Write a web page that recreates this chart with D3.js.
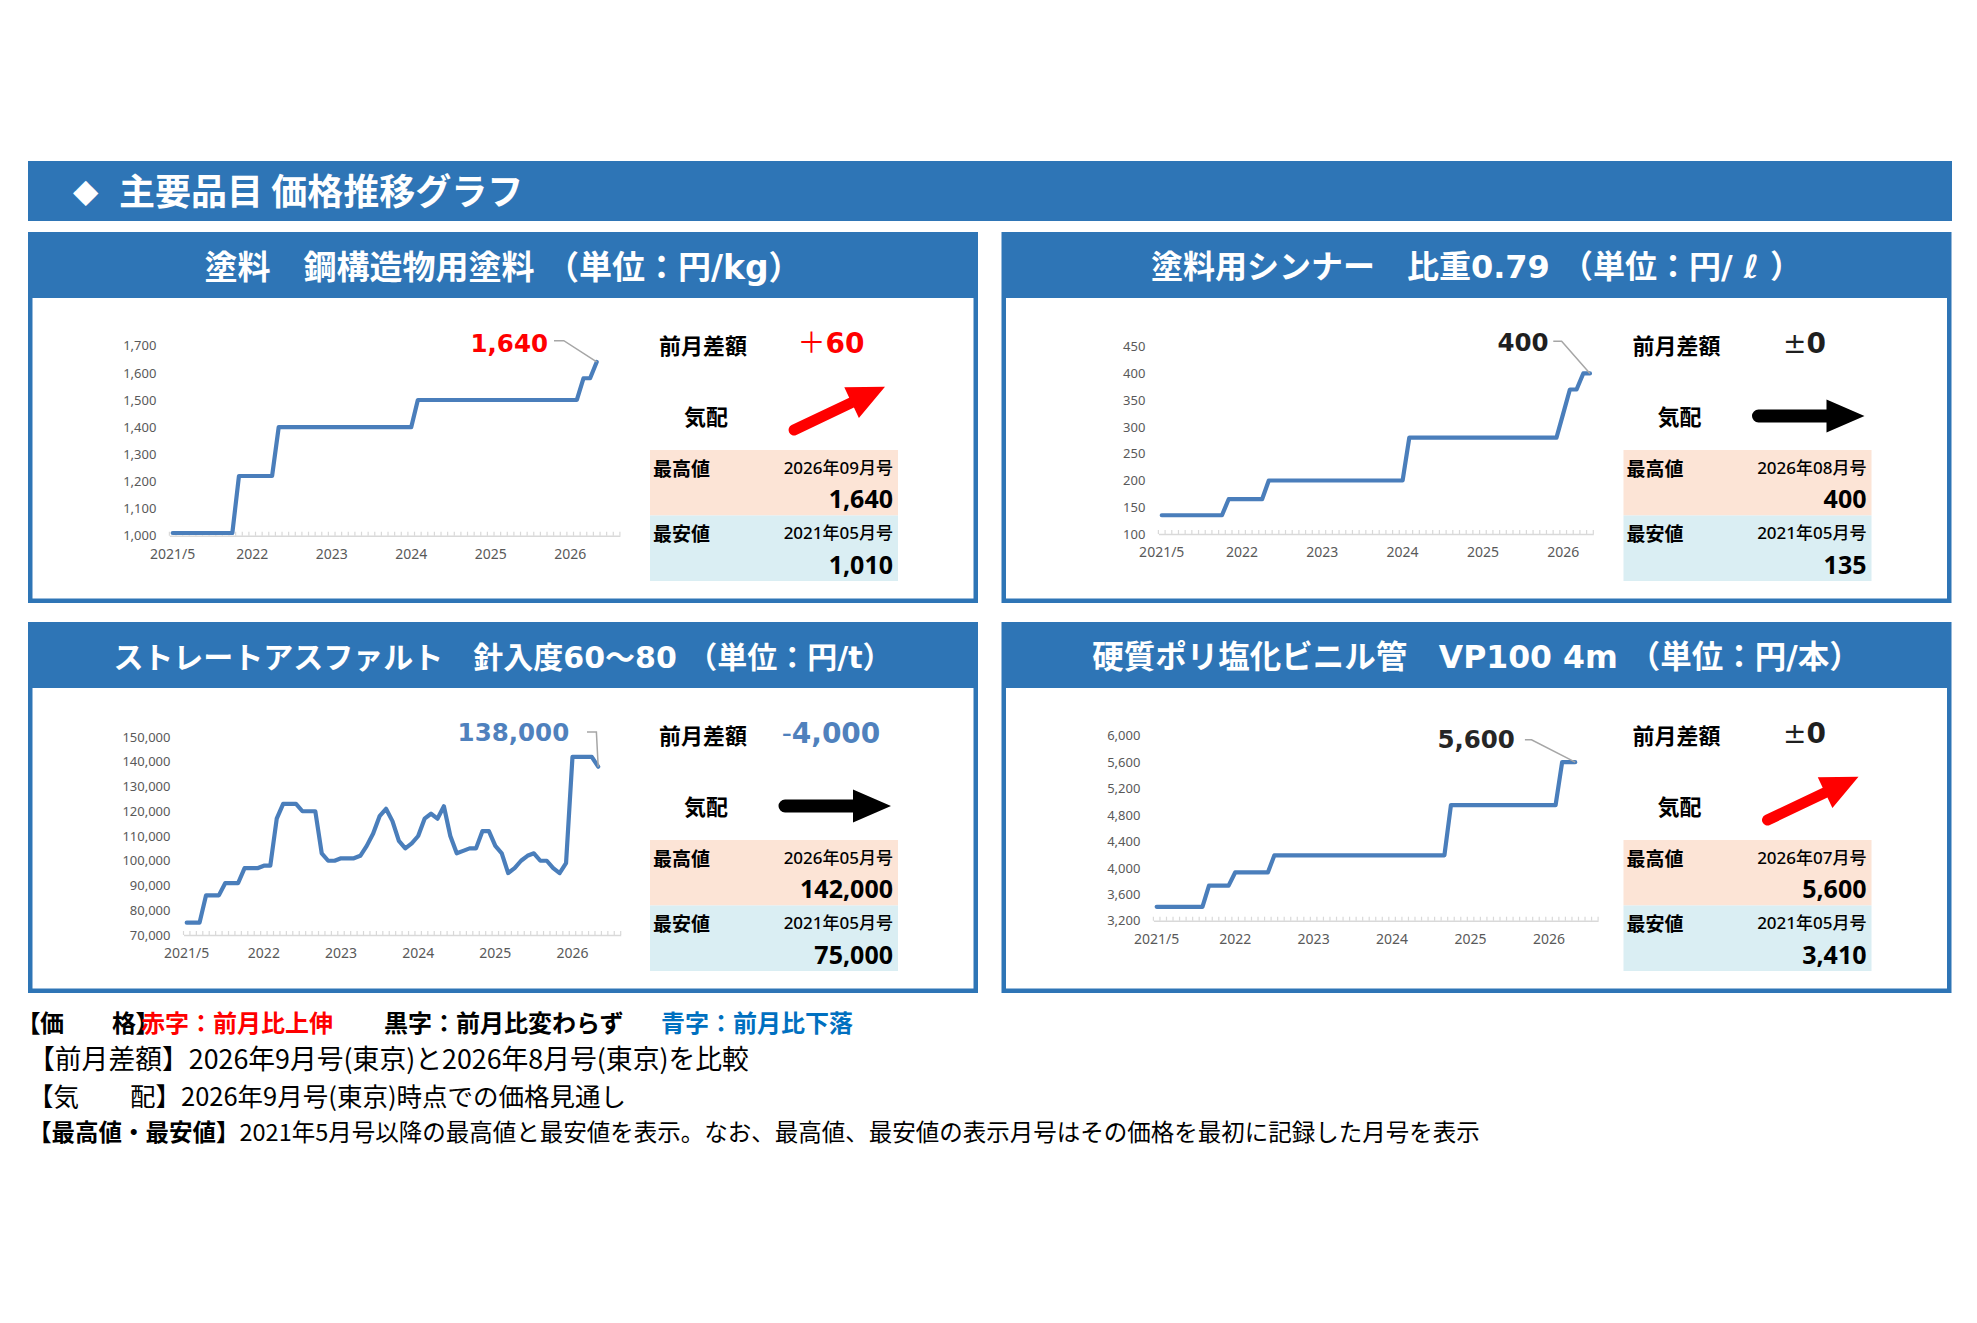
<!DOCTYPE html>
<html>
<head>
<meta charset="utf-8">
<script src="https://cdn.jsdelivr.net/npm/d3@7/dist/d3.min.js"></script>
<style>
body { margin: 0; background: #fff; }
svg { display: block; }
</style>
</head>
<body>
<svg id="chart" width="1977" height="1323"></svg>
<script>
// ---- data ----
const xTickLabels = ['2021/5', '2022', '2023', '2024', '2025', '2026']

const titles = [
  '塗料　鋼構造物用塗料 （単位：円/kg）',
  '塗料用シンナー　比重0.79 （単位：円/ ℓ ）',
  'ストレートアスファルト　針入度60～80 （単位：円/t）',
  '硬質ポリ塩化ビニル管　VP100 4m （単位：円/本）'
]

// 2021/5 .. 2026/9, monthly
const paintValues = [
  1010, 1010, 1010, 1010, 1010, 1010, 1010, 1010, 1010, 1010,
  1220, 1220, 1220, 1220, 1220, 1220,
  1400, 1400, 1400, 1400, 1400, 1400, 1400, 1400, 1400, 1400, 1400,
  1400, 1400, 1400, 1400, 1400, 1400, 1400, 1400, 1400, 1400,
  1500, 1500, 1500, 1500, 1500, 1500, 1500, 1500, 1500, 1500, 1500, 1500,
  1500, 1500, 1500, 1500, 1500, 1500, 1500, 1500, 1500, 1500, 1500, 1500, 1500,
  1580, 1580, 1640
]
const thinnerValues = [
  135, 135, 135, 135, 135, 135, 135, 135, 135, 135,
  165, 165, 165, 165, 165, 165,
  200, 200, 200, 200, 200, 200, 200, 200, 200, 200, 200,
  200, 200, 200, 200, 200, 200, 200, 200, 200, 200,
  280, 280, 280, 280, 280, 280, 280, 280, 280, 280, 280, 280,
  280, 280, 280, 280, 280, 280, 280, 280, 280, 280, 280,
  325, 370, 370, 400, 400
]
const asphaltValues = [
  75000, 75000, 75000, 86000, 86000, 86000, 91000, 91000, 91000,
  97000, 97000, 97000, 98000, 98000, 117000, 123000, 123000, 123000,
  120000, 120000, 120000, 103000, 100000, 100000, 101000, 101000, 101000,
  102000, 106000, 111000, 118000, 121000, 116000, 108000, 105000, 107000,
  110000, 117000, 119000, 117000, 122000, 110000, 103000, 104000, 105000,
  105000, 112000, 112000, 106000, 103000, 95000, 97000, 100000, 102000,
  103000, 100000, 100000, 97000, 95000, 99000,
  142000, 142000, 142000, 142000, 138000
]
const pvcValues = [
  3410, 3410, 3410, 3410, 3410, 3410, 3410, 3410,
  3730, 3730, 3730, 3730,
  3930, 3930, 3930, 3930, 3930, 3930,
  4190, 4190, 4190, 4190, 4190, 4190, 4190, 4190, 4190, 4190, 4190, 4190, 4190, 4190,
  4190, 4190, 4190, 4190, 4190, 4190, 4190, 4190, 4190, 4190, 4190, 4190, 4190,
  4950, 4950, 4950, 4950, 4950, 4950, 4950, 4950, 4950, 4950, 4950, 4950,
  4950, 4950, 4950, 4950, 4950,
  5600, 5600, 5600
]

const paintTicks = [1000, 1100, 1200, 1300, 1400, 1500, 1600, 1700]
const thinnerTicks = [100, 150, 200, 250, 300, 350, 400, 450]
const asphaltTicks = [70000, 80000, 90000, 100000, 110000, 120000, 130000, 140000, 150000]
const pvcTicks = [3200, 3600, 4000, 4400, 4800, 5200, 5600, 6000]

const diffSigns = ['＋', '±', '-', '±']
const diffNumbers = ['60', '0', '4,000', '0']
const trends = ['up', 'flat', 'flat', 'up']
const maxDates = ['2026年09月号', '2026年08月号', '2026年05月号', '2026年07月号']
const maxValues = [1640, 400, 142000, 5600]
const minDates = ['2021年05月号', '2021年05月号', '2021年05月号', '2021年05月号']
const minValues = [1010, 135, 75000, 3410]

// category axis: 2021/5 onwards
const months = d3.range(68).map(i => `${2021 + Math.floor((4 + i) / 12)}/${(4 + i) % 12 + 1}`)

// ---- style ----
const blue = '#2E75B6'
const jp = '"Noto Sans CJK JP", sans-serif'
const lat = '"DejaVu Sans", "Noto Sans CJK JP", sans-serif'
const num = '"Noto Sans", "Noto Sans CJK JP", sans-serif'
const fmt = d3.format(',')
const colUp = '#FF0000'
const colFlat = '#1F1F1F'
const colDown = '#4F81BD'

const panelPos = [[28, 232], [1001.5, 232], [28, 622], [1001.5, 622]]
const titleSizes = [33, 32, 30, 31.5]
const charts = [
  {values: paintValues, ticks: paintTicks, cats: 68, xr: [141.4, 591.9], yr: [303.7, 113.7],
    color: colUp, lab: [-48.7, -18.7], lead: [[-42.7, -21.3], [-32.9, -21.3]]},
  {values: thinnerValues, ticks: thinnerTicks, cats: 65, xr: [156.9, 591.8], yr: [302, 114.7],
    color: colFlat, lab: [-41.3, -30.6], lead: [[-36.7, -32.3], [-28.3, -32.3]]},
  {values: asphaltValues, ticks: asphaltTicks, cats: 68, xr: [155.5, 592.7], yr: [313, 115],
    color: colDown, lab: [-29, -34], lead: [[-11.2, -34.6], [-1.8, -34.6]]},
  {values: pvcValues, ticks: pvcTicks, cats: 68, xr: [151.9, 596.6], yr: [298.7, 113.7],
    color: '#262626', lab: [-60.3, -22.3], lead: [[-50.3, -22.3], [-43.7, -22.3]]}
]
const diffColors = [colUp, colFlat, colDown, colFlat]

const svg = d3.select('#chart')

// ---- page header ----
svg.append('rect').attr('x', 28).attr('y', 161).attr('width', 1924).attr('height', 60).attr('fill', blue)
svg.append('text').attr('x', 73).attr('y', 190).attr('dominant-baseline', 'central')
  .attr('fill', '#fff').attr('font-family', lat).attr('font-size', 33).text('◆')
svg.append('text').attr('x', 119).attr('y', 189).attr('dominant-baseline', 'central')
  .attr('fill', '#fff').attr('font-family', jp).attr('font-weight', 'bold').attr('font-size', 36)
  .text('主要品目 価格推移グラフ')

const drawArrow = (g, [x1, y1], [x2, y2], color, w, hw, hl) => {
  const L = Math.hypot(x2 - x1, y2 - y1)
  const a = Math.atan2(y2 - y1, x2 - x1) * 180 / Math.PI
  const r = w / 2
  g.append('path')
    .attr('d', `M0,${-r}H${L - hl}V${-hw / 2}L${L},0L${L - hl},${hw / 2}V${r}H0A${r},${r} 0 0 1 0,${-r}Z`)
    .attr('fill', color)
    .attr('transform', `translate(${x1},${y1}) rotate(${a})`)
}

charts.forEach((c, i) => {
  const [px, py] = panelPos[i]
  const g = svg.append('g').attr('transform', `translate(${px},${py})`)

  g.append('rect').attr('width', 950).attr('height', 371).attr('fill', blue)
  g.append('rect').attr('x', 4.5).attr('y', 66).attr('width', 941).attr('height', 300.5).attr('fill', '#fff')
  g.append('text').attr('x', 475).attr('y', 35).attr('text-anchor', 'middle')
    .attr('dominant-baseline', 'central').attr('fill', '#fff')
    .attr('font-family', lat).attr('font-weight', 'bold').attr('font-size', titleSizes[i])
    .text(titles[i])

  // scales
  const x = d3.scaleBand().domain(months.slice(0, c.cats)).range(c.xr)
  const y = d3.scaleLinear().domain(d3.extent(c.ticks)).range(c.yr)
  const cx = (d, k) => x(months[k]) + x.bandwidth() / 2

  // y axis
  const ya = g.append('g').attr('transform', `translate(${c.xr[0]},0)`)
    .call(d3.axisLeft(y).tickValues(c.ticks).tickSize(0).tickPadding(13).tickFormat(fmt))
  ya.select('.domain').remove()
  ya.selectAll('text').attr('font-family', num).attr('font-size', 13).attr('fill', '#595959')

  // x axis
  const xa = g.append('g').attr('transform', `translate(0,${c.yr[0]})`)
    .call(d3.axisBottom(x).tickValues(xTickLabels.map((d, k) => months[k * 12]))
      .tickFormat((d, k) => xTickLabels[k]).tickSize(0).tickSizeOuter(0).tickPadding(13))
  xa.select('.domain').attr('stroke', '#D9D9D9').attr('stroke-width', 1.5)
  xa.selectAll('text').attr('font-family', num).attr('font-size', 14).attr('fill', '#595959')
  xa.selectAll('line.minor').data(d3.range(c.cats + 1)).join('line')
    .attr('class', 'minor')
    .attr('x1', k => c.xr[0] + k * x.step()).attr('x2', k => c.xr[0] + k * x.step())
    .attr('y1', -4).attr('y2', 0)
    .attr('stroke', '#D9D9D9').attr('stroke-width', 1.2)

  // series line
  g.append('path')
    .datum(c.values)
    .attr('d', d3.line().x(cx).y(d => y(d)))
    .attr('fill', 'none').attr('stroke', '#4A7EBB').attr('stroke-width', 4.2)
    .attr('stroke-linejoin', 'round').attr('stroke-linecap', 'round')

  // latest value label
  const last = c.values.length - 1
  const lx = cx(c.values[last], last)
  const ly = y(c.values[last])
  g.append('path')
    .attr('d', d3.line()([[lx + c.lead[0][0], ly + c.lead[0][1]], [lx + c.lead[1][0], ly + c.lead[1][1]], [lx, ly]]))
    .attr('fill', 'none').attr('stroke', '#A6A6A6').attr('stroke-width', 1.5)
  g.append('text').attr('x', lx + c.lab[0]).attr('y', ly + c.lab[1])
    .attr('text-anchor', 'end').attr('dominant-baseline', 'central')
    .attr('font-family', lat).attr('font-weight', 'bold').attr('font-size', 24.5)
    .attr('fill', c.color).text(fmt(c.values[last]))

  // info block
  g.append('text').attr('x', 631).attr('y', 112).attr('dominant-baseline', 'central')
    .attr('font-family', jp).attr('font-weight', 'bold').attr('font-size', 22).text('前月差額')
  const dt = g.append('text').attr('x', 803).attr('y', 111).attr('text-anchor', 'middle')
    .attr('dominant-baseline', 'central').attr('font-family', lat).attr('font-size', 28)
    .attr('fill', diffColors[i])
  dt.append('tspan').attr('font-weight', 'normal').text(diffSigns[i])
  dt.append('tspan').attr('font-weight', 'bold').text(diffNumbers[i])

  g.append('text').attr('x', 678).attr('y', 183).attr('text-anchor', 'middle')
    .attr('dominant-baseline', 'central').attr('font-family', jp).attr('font-weight', 'bold')
    .attr('font-size', 22).text('気配')
  if (trends[i] === 'up') drawArrow(g, [766, 198], [857, 154.7], '#FF0000', 11, 34, 37)
  else drawArrow(g, [757, 184], [863, 184], '#000', 13, 33, 38)

  const rows = [
    {label: '最高値', date: maxDates[i], value: maxValues[i], fill: '#FCE4D6'},
    {label: '最安値', date: minDates[i], value: minValues[i], fill: '#DAEEF3'}
  ]
  rows.forEach((r, k) => {
    const top = 218 + k * 65.5
    g.append('rect').attr('x', 622).attr('y', top).attr('width', 248).attr('height', 65.5).attr('fill', r.fill)
    g.append('text').attr('x', 625).attr('y', top + 17).attr('dominant-baseline', 'central')
      .attr('font-family', jp).attr('font-weight', 'bold').attr('font-size', 19).text(r.label)
    g.append('text').attr('x', 865).attr('y', top + 17).attr('text-anchor', 'end')
      .attr('dominant-baseline', 'central').attr('font-family', num).attr('font-size', 17)
      .attr('font-weight', 500).text(r.date)
    g.append('text').attr('x', 865).attr('y', top + 48).attr('text-anchor', 'end')
      .attr('dominant-baseline', 'central').attr('font-family', num).attr('font-weight', 'bold')
      .attr('font-size', 25).text(fmt(r.value))
  })
})

// ---- footnotes ----
const notes = svg.append('g').attr('font-family', jp).attr('fill', '#000')
const l1 = [
  {t: '【価　　格】', x: 28, c: '#000'},
  {t: '赤字：前月比上伸', x: 141, c: '#FF0000'},
  {t: '黒字：前月比変わらず', x: 384, c: '#000'},
  {t: '青字：前月比下落', x: 661, c: '#0070C0'}
]
l1.forEach(s => {
  notes.append('text').attr('x', s.x).attr('y', 1021).attr('dominant-baseline', 'central')
    .attr('font-weight', 'bold').attr('font-size', 24).attr('fill', s.c)
    .style('font-feature-settings', s.x === 28 ? '"palt"' : 'normal')
    .text(s.t)
})
notes.append('text').attr('x', 28).attr('y', 1057).attr('dominant-baseline', 'central')
  .attr('font-size', 26.8).text('【前月差額】2026年9月号(東京)と2026年8月号(東京)を比較')
notes.append('text').attr('x', 28).attr('y', 1094).attr('dominant-baseline', 'central')
  .attr('font-size', 25.5).text('【気　　配】2026年9月号(東京)時点での価格見通し')
const l4 = notes.append('text').attr('x', 28).attr('y', 1131).attr('dominant-baseline', 'central')
  .attr('font-size', 23.5)
l4.append('tspan').attr('font-weight', 'bold').text('【最高値・最安値】')
l4.append('tspan').text('2021年5月号以降の最高値と最安値を表示。なお、最高値、最安値の表示月号はその価格を最初に記録した月号を表示')
</script>
</body>
</html>
